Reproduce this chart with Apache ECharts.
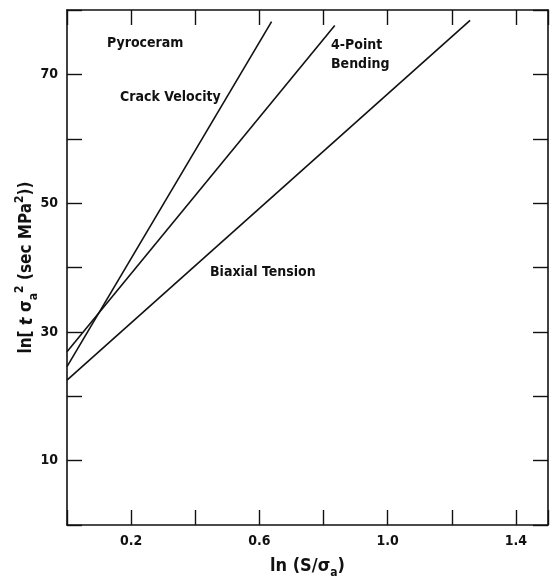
<!DOCTYPE html>
<html>
<head>
<meta charset="utf-8">
<script src="https://cdn.jsdelivr.net/npm/echarts@6/dist/echarts.min.js"></script>
<style>
  html, body { margin: 0; padding: 0; background: #fff; }
  #chart { width: 550px; height: 580px; }
</style>
</head>
<body>
<div id="chart"></div>
<script>
  // lines: [ln(S/sigma_a), ln(t sigma_a^2)]
  var crackVelocity = [[0, 24.6], [0.638, 78.2]];
  var fourPointBending = [[0, 26.9], [0.835, 77.6]];
  var biaxialTension = [[0, 22.5], [1.257, 78.4]];

  var xTickLabels = ['0.2', '0.6', '1.0', '1.4'];
  var yTickLabels = ['10', '30', '50', '70'];

  var font = "'Liberation Sans Narrow', 'DejaVu Sans Condensed', sans-serif";
  var ink = '#111';

  var chart = echarts.init(document.getElementById('chart'));

  function lineSeries(name, data) {
    return {
      name: name,
      type: 'line',
      data: data,
      showSymbol: false,
      symbol: 'none',
      lineStyle: { color: ink, width: 1.6 },
      xAxisIndex: 0,
      yAxisIndex: 0,
      silent: true
    };
  }

  var axisLineStyle = { show: true, onZero: false, lineStyle: { color: ink, width: 1.6 } };
  var tickStyle = { show: true, inside: true, length: 15, lineStyle: { color: ink, width: 1.4 } };

  var option = {
    backgroundColor: '#fff',
    animation: false,
    grid: { left: 67, right: 2, top: 10, bottom: 55, containLabel: false, outerBoundsMode: 'none' },
    xAxis: [{
      type: 'value',
      position: 'bottom',
      min: 0, max: 1.5, interval: 0.2,
      axisLine: axisLineStyle,
      axisTick: tickStyle,
      splitLine: { show: false },
      axisLabel: {
        margin: 9,
        color: ink, fontSize: 14, fontWeight: 'bold', fontFamily: font,
        formatter: function (v) {
          var s = v.toFixed(1);
          return xTickLabels.indexOf(s) >= 0 ? s : '';
        }
      },
      name: '{t|ln (S/σ}{sub|a}{t|)}',
      nameLocation: 'middle',
      nameGap: 28,
      nameTextStyle: {
        rich: {
          t: { fontSize: 18, fontWeight: 'bold', fontFamily: font, color: ink, lineHeight: 26, verticalAlign: 'middle' },
          sub: { fontSize: 12, fontWeight: 'bold', fontFamily: font, color: ink, lineHeight: 26, verticalAlign: 'bottom', padding: [8, 0, 0, 0] }
        }
      }
    }, {
      type: 'value',
      position: 'top',
      min: 0, max: 1.5, interval: 0.2,
      axisLine: axisLineStyle,
      axisTick: tickStyle,
      axisLabel: { show: false },
      splitLine: { show: false }
    }],
    yAxis: [{
      type: 'value',
      position: 'left',
      min: 0, max: 80, interval: 10,
      axisLine: axisLineStyle,
      axisTick: tickStyle,
      splitLine: { show: false },
      axisLabel: {
        margin: 9,
        color: ink, fontSize: 14, fontWeight: 'bold', fontFamily: font,
        formatter: function (v) {
          var s = String(Math.round(v));
          return yTickLabels.indexOf(s) >= 0 ? s : '';
        }
      },
      name: '{t|ln[ }{it|t}{t| σ}{sub|a}{sup|2}{t| (sec MPa}{sup|2}{t|))}',
      nameLocation: 'middle',
      nameGap: 27,
      nameMoveOverlap: false,
      nameRotate: 90,
      nameTextStyle: {
        rich: {
          t: { fontSize: 17, fontWeight: 'bold', fontFamily: font, color: ink, lineHeight: 26, verticalAlign: 'middle' },
          it: { fontSize: 18, fontWeight: 'bold', fontStyle: 'italic', fontFamily: font, color: ink, lineHeight: 26, verticalAlign: 'middle' },
          sub: { fontSize: 12, fontWeight: 'bold', fontFamily: font, color: ink, lineHeight: 26, verticalAlign: 'bottom', padding: [9, 0, 0, 0] },
          sup: { fontSize: 12, fontWeight: 'bold', fontFamily: font, color: ink, lineHeight: 26, verticalAlign: 'top', padding: [0, 0, 9, 0] }
        }
      }
    }, {
      type: 'value',
      position: 'right',
      min: 0, max: 80, interval: 10,
      axisLine: axisLineStyle,
      axisTick: tickStyle,
      axisLabel: { show: false },
      splitLine: { show: false }
    }],
    graphic: [
      { type: 'text', x: 107, y: 43, style: { text: 'Pyroceram', fill: ink, font: 'bold 14px ' + font, verticalAlign: 'middle' } },
      { type: 'text', x: 120, y: 97, style: { text: 'Crack Velocity', fill: ink, font: 'bold 14px ' + font, verticalAlign: 'middle' } },
      { type: 'text', x: 331, y: 45, style: { text: '4-Point', fill: ink, font: 'bold 14px ' + font, verticalAlign: 'middle' } },
      { type: 'text', x: 331, y: 64, style: { text: 'Bending', fill: ink, font: 'bold 14px ' + font, verticalAlign: 'middle' } },
      { type: 'text', x: 210, y: 272, style: { text: 'Biaxial Tension', fill: ink, font: 'bold 14px ' + font, verticalAlign: 'middle' } }
    ],
    series: [
      lineSeries('Crack Velocity', crackVelocity),
      lineSeries('4-Point Bending', fourPointBending),
      lineSeries('Biaxial Tension', biaxialTension)
    ]
  };

  chart.setOption(option);
</script>
</body>
</html>
